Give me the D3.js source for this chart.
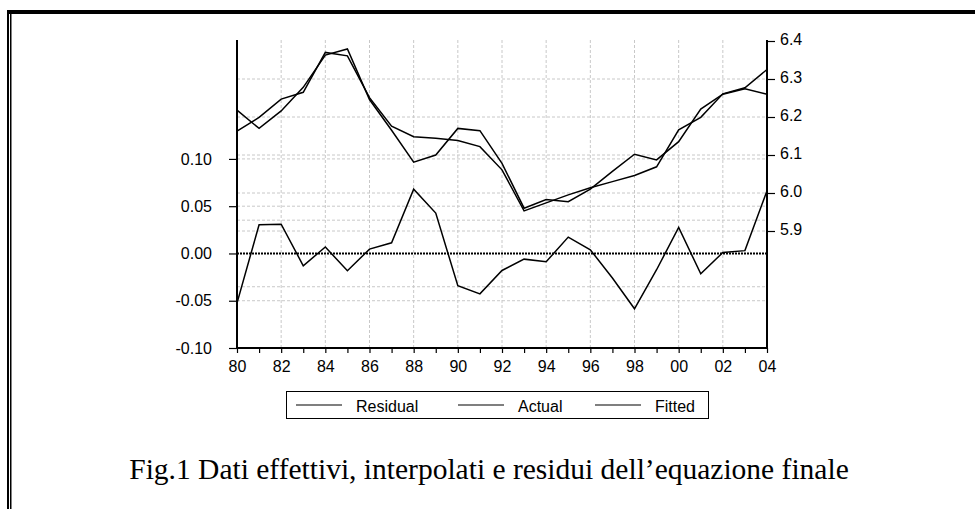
<!DOCTYPE html>
<html><head><meta charset="utf-8">
<script src="https://cdn.jsdelivr.net/npm/d3@7"></script>
<style>body{margin:0;background:#fff}svg{display:block}</style>
</head><body>
<script>
const years = d3.range(1980, 2005);
const residual = [-0.0525,0.0304,0.031,-0.013,0.0068,-0.0183,0.0046,0.0113,0.068,0.0427,-0.0342,-0.0427,-0.018,-0.006,-0.0088,0.0173,0.0039,-0.026,-0.0585,-0.0172,0.0275,-0.0215,0.001,0.003,0.0663];
const actual = [6.163,6.199,6.247,6.265,6.370,6.361,6.251,6.176,6.148,6.144,6.138,6.122,6.061,5.953,5.974,5.995,6.014,6.030,6.046,6.069,6.166,6.199,6.261,6.277,6.325];
const fitted = [6.218,6.170,6.216,6.278,6.363,6.379,6.246,6.165,6.081,6.100,6.170,6.164,6.078,5.960,5.983,5.977,6.010,6.057,6.102,6.087,6.135,6.221,6.260,6.274,6.260];
const leftTicks = [-0.10,-0.05,0.00,0.05,0.10];
const rightTicks = [5.9,6.0,6.1,6.2,6.3,6.4];
const seBand = 0.0352;
const legendLabels = ["Residual","Actual","Fitted"];
const caption = "Fig.1 Dati effettivi, interpolati e residui dell\u2019equazione finale";

const W = 975, H = 509;
const svg = d3.select("body").append("svg").attr("width", W).attr("height", H);

// frame
svg.append("rect").attr("x",7).attr("y",10).attr("width",W-7).attr("height",4).attr("fill","#000");
svg.append("rect").attr("x",7).attr("y",10).attr("width",2).attr("height",H-10).attr("fill","#000");
svg.append("rect").attr("x",10).attr("y",14).attr("width",1.5).attr("height",H-14).attr("fill","#000");

const x0 = 237, x1 = 767, yTop = 40, yBot = 348;
const x = d3.scaleLinear().domain([1980, 2004]).range([x0, x1]);
const yL = d3.scaleLinear().domain([-0.10, 0.2258]).range([yBot, yTop]);
const yR = d3.scaleLinear().domain([6.4 - (yBot-41)/380, 6.4 + 1/380]).range([yBot, yTop]);

const grid = svg.append("g").attr("stroke","#c8c8c8").attr("stroke-width",1).attr("stroke-dasharray","3,2");
years.filter(y => y % 2 === 0 && y > 1980 && y < 2004).forEach(y => {
  grid.append("line").attr("x1",x(y)).attr("x2",x(y)).attr("y1",yTop).attr("y2",yBot);
});
const hVals = rightTicks.filter(v => v < 6.4).map(v => yR(v))
  .concat(leftTicks.filter(v => v !== 0 && v > -0.1).map(v => yL(v)))
  .concat([yL(seBand), yL(-seBand)]);
hVals.forEach(yy => grid.append("line").attr("x1",x0).attr("x2",x1).attr("y1",yy).attr("y2",yy));

// zero line
svg.append("line").attr("x1",x0).attr("x2",x1).attr("y1",yL(0)).attr("y2",yL(0))
  .attr("stroke","#000").attr("stroke-width",2).attr("stroke-dasharray","2,1");

const font = "'Liberation Sans', Arial, sans-serif";
// axes
const gL = svg.append("g").attr("transform",`translate(${x0},0)`)
  .call(d3.axisLeft(yL).tickValues(leftTicks).tickFormat(d3.format(".2f")).tickSize(8).tickPadding(17));
const gR = svg.append("g").attr("transform",`translate(${x1},0)`)
  .call(d3.axisRight(yR).tickValues(rightTicks).tickFormat(d3.format(".1f")).tickSize(8).tickPadding(5));
const gB = svg.append("g").attr("transform",`translate(0,${yBot})`)
  .call(d3.axisBottom(x).tickValues(years).tickSize(5).tickPadding(8)
    .tickFormat(d => d % 2 === 0 ? String(d % 100).padStart(2,"0") : ""));
[gL,gR,gB].forEach(g => {
  g.select(".domain").remove();
  g.selectAll("line").attr("stroke","#000").attr("stroke-width",1.2);
  g.selectAll("text").attr("font-family",font).attr("font-size",16).attr("fill","#000");
});
gL.selectAll("text").text(d => d3.format(".2f")(d).replace("−","-"));
gR.selectAll("text").attr("dy","0.2em");
// axis lines
svg.append("line").attr("x1",x0).attr("x2",x0).attr("y1",yTop).attr("y2",yBot+1).attr("stroke","#000").attr("stroke-width",2);
svg.append("line").attr("x1",x1).attr("x2",x1).attr("y1",yTop).attr("y2",yBot+1).attr("stroke","#000").attr("stroke-width",2);
svg.append("line").attr("x1",x0-1).attr("x2",x1+1).attr("y1",yBot).attr("y2",yBot).attr("stroke","#000").attr("stroke-width",2);

// series
const lineL = d3.line().x((d,i) => x(years[i])).y(d => yL(d));
const lineR = d3.line().x((d,i) => x(years[i])).y(d => yR(d));
svg.append("path").datum(residual).attr("d",lineL).attr("fill","none").attr("stroke","#000").attr("stroke-width",1.5);
svg.append("path").datum(actual).attr("d",lineR).attr("fill","none").attr("stroke","#000").attr("stroke-width",1.5);
svg.append("path").datum(fitted).attr("d",lineR).attr("fill","none").attr("stroke","#000").attr("stroke-width",1.5);

// legend
const lg = svg.append("g");
lg.append("rect").attr("x",286.5).attr("y",391.5).attr("width",422).attr("height",27).attr("fill","#fff").attr("stroke","#000").attr("stroke-width",1);
const lx = [296, 458, 595];
legendLabels.forEach((t,i) => {
  lg.append("line").attr("x1",lx[i]).attr("x2",lx[i]+46).attr("y1",405).attr("y2",405).attr("stroke","#000").attr("stroke-width",1.2);
  lg.append("text").attr("x",lx[i]+60).attr("y",412).attr("font-family",font).attr("font-size",16).text(t);
});

svg.append("text").attr("x",489).attr("y",479).attr("text-anchor","middle")
  .attr("font-family","'Liberation Serif','Times New Roman',serif").attr("font-size",29.5).text(caption);
</script>
</body></html>
